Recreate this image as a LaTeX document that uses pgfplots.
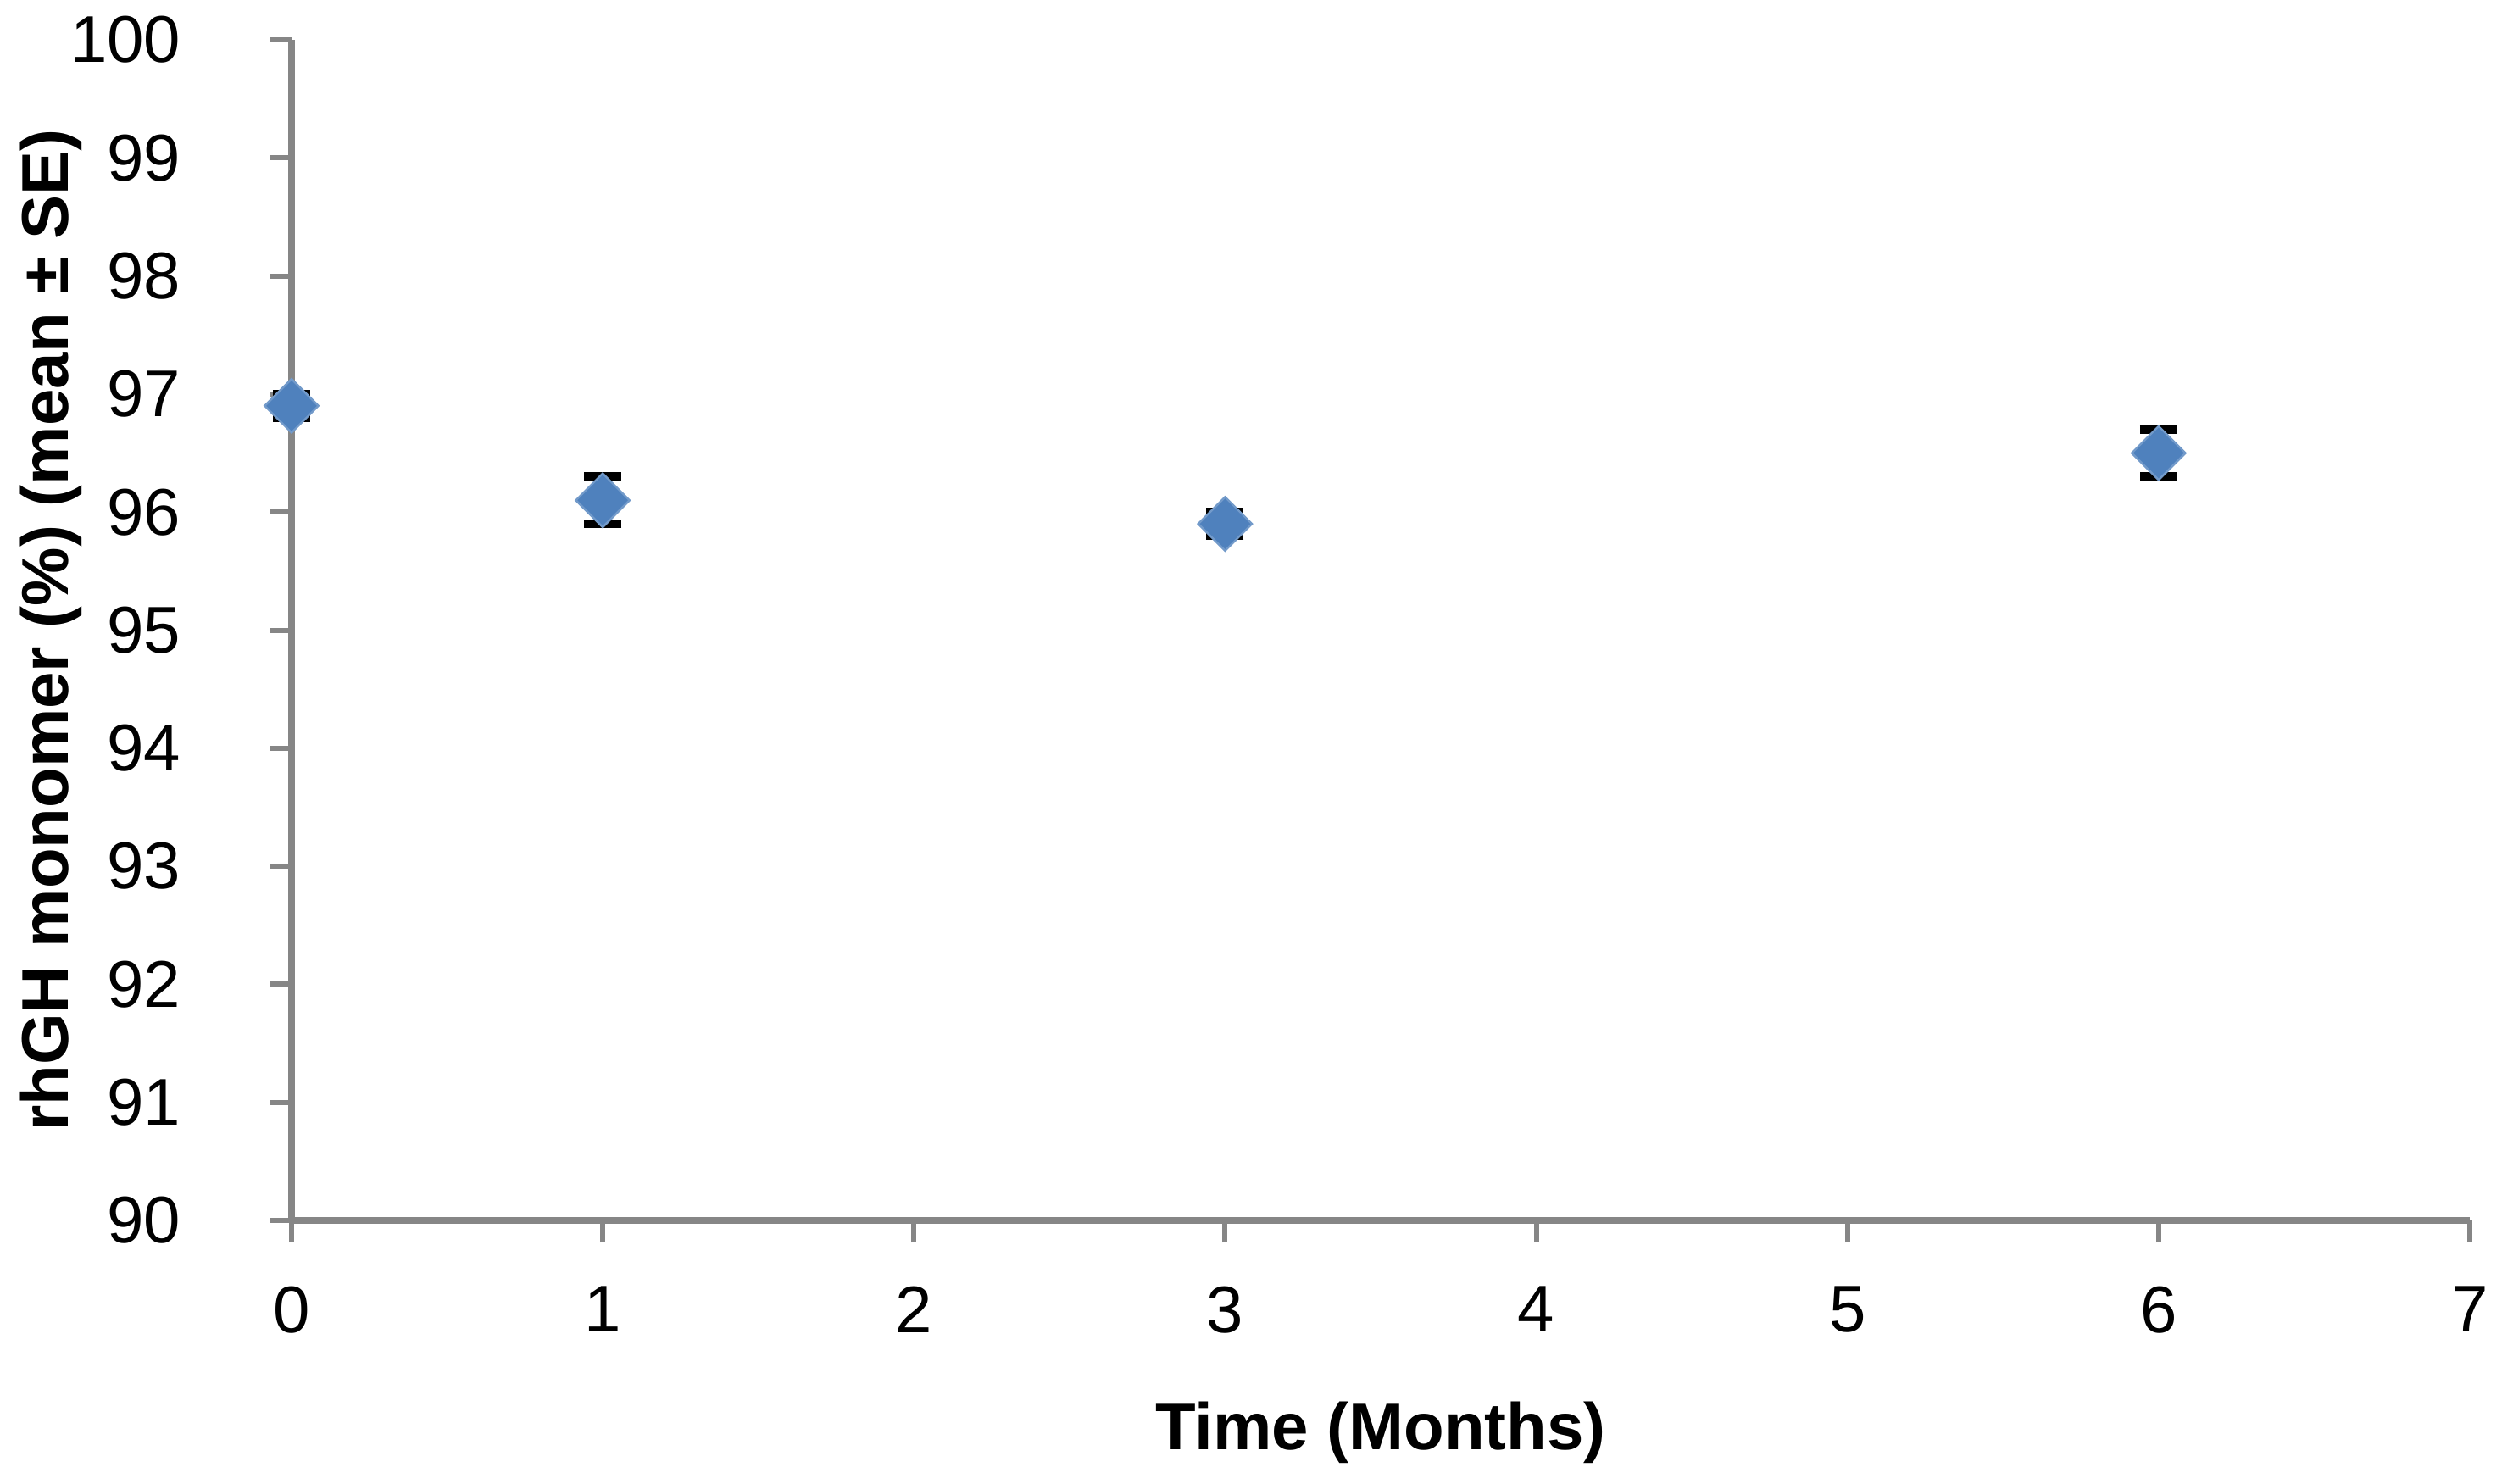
\documentclass[border=0pt]{standalone}
\usepackage{fontspec}
\setmainfont{Liberation Sans}
\usepackage{pgfplots}
\pgfplotsset{compat=1.18}
\definecolor{mkblue}{HTML}{4F81BD}
\definecolor{axgray}{HTML}{868686}
\begin{document}
\begin{tikzpicture}
\useasboundingbox (0,0) rectangle (738pt,437.5pt);
\begin{axis}[
  at={(86pt,77.5pt)}, anchor=south west,
  scale only axis, width=642.5pt, height=348.25pt,
  xmin=0, xmax=7, ymin=90, ymax=100,
  xtick={0,1,...,7}, ytick={90,91,...,100},
  axis x line=bottom, axis y line=left,
  axis line style={axgray, line width=2pt, -},
  tick align=outside, major tick length=6.5pt,
  tick style={axgray, line width=1.5pt},
  minor tick num=0,
  /pgf/number format/assume math mode=true,
  tick label style={font=\fontsize{19.5}{23}\selectfont, inner sep=0pt},
  yticklabel style={anchor=east, xshift=-26pt},
  xticklabel style={anchor=north, yshift=-12.7pt},
  label style={font=\bfseries\fontsize{19.5}{23}\selectfont},
  xlabel={Time (Months)},
  xlabel style={at={(axis description cs:0.5,0)}, anchor=base, yshift=-67.5pt, inner sep=0pt},
  ylabel={rhGH monomer (\%) (mean ± SE)},
  ylabel style={at={(axis description cs:-0.1024,0.5)}, anchor=base, inner sep=0pt},
  clip=false,
]
\addplot[only marks, mark=none,
  error bars/.cd, y dir=both, y explicit,
  error bar style={black, line width=2pt},
  error mark options={black, line width=2.5pt, mark size=5.5pt, rotate=90}]
  coordinates {(0,96.9) +- (0,0.1) (1,96.1) +- (0,0.2) (3,95.9) +- (0,0.1) (6,96.5) +- (0,0.2)};
\addplot[only marks, mark=square*, mark size=5.6pt,
  mark options={rotate=45, fill=mkblue, draw=mkblue!80!white, line width=0.6pt}]
  coordinates {(0,96.9) (1,96.1) (3,95.9) (6,96.5)};
\end{axis}
\end{tikzpicture}
\end{document}
